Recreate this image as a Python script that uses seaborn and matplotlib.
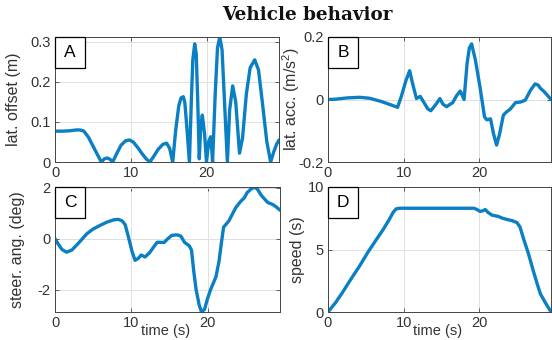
import numpy as np
import pandas as pd
import matplotlib
matplotlib.use("Agg")
import matplotlib.pyplot as plt
from matplotlib.patches import Rectangle
import seaborn as sns

# ---------------- data ----------------
t_offset = [0.0, 1.0, 2.0, 2.8, 3.3, 3.8, 4.4, 5.0, 5.6, 6.1, 6.5, 6.9, 7.3, 7.6,
            8.1, 8.7, 9.3, 9.8, 10.3, 10.9, 11.5, 12.0, 12.5, 13.0, 13.6, 14.2,
            14.7, 15.1, 15.5, 15.9, 16.3, 16.6, 16.9, 17.1, 17.35, 17.7, 17.95,
            18.15, 18.4, 18.6, 18.8, 19.0, 19.2, 19.4, 19.7, 19.95, 20.25, 20.5,
            20.65, 20.75, 21.1, 21.4, 21.7, 22.0, 22.3, 22.7, 23.0, 23.4, 23.8,
            24.3, 24.7, 25.2, 25.7, 26.3, 26.8, 27.3, 27.9, 28.4, 28.8, 29.2, 29.5]
lat_offset = [0.077, 0.077, 0.078, 0.080, 0.080, 0.077, 0.062, 0.040, 0.018, 0.0,
              0.008, 0.010, 0.006, 0.0, 0.020, 0.042, 0.053, 0.055, 0.050, 0.036,
              0.020, 0.008, 0.0, 0.014, 0.032, 0.044, 0.047, 0.034, 0.0, 0.080,
              0.140, 0.160, 0.163, 0.148, 0.090, 0.0, 0.150, 0.255, 0.295, 0.270,
              0.150, 0.008, 0.090, 0.117, 0.070, 0.0, 0.052, 0.063, 0.030, 0.0,
              0.170, 0.285, 0.312, 0.280, 0.160, 0.0, 0.130, 0.190, 0.150, 0.022,
              0.060, 0.170, 0.235, 0.255, 0.230, 0.150, 0.050, 0.0, 0.025, 0.045,
              0.055]

t_acc = [0.0, 1.0, 2.5, 4.2, 5.5, 7.0, 8.3, 9.2, 9.7, 10.3, 10.8, 11.2, 11.7, 12.2,
         12.7, 13.2, 13.6, 14.2, 14.8, 15.2, 15.7, 16.1, 16.5, 17.0, 17.5, 18.0,
         18.4, 18.7, 19.0, 19.5, 20.1, 20.7, 21.0, 21.5, 21.9, 22.3, 22.7, 23.2,
         23.6, 24.1, 24.8, 25.5, 26.1, 26.8, 27.4, 27.8, 28.1, 28.6, 29.0, 29.5]
lat_acc = [0.0, 0.001, 0.005, 0.007, 0.004, -0.006, -0.017, -0.025, 0.010, 0.060,
           0.092, 0.050, 0.003, 0.010, -0.010, -0.030, -0.036, -0.018, 0.003,
           -0.015, -0.023, -0.016, -0.010, 0.012, 0.027, 0.0, 0.116, 0.165, 0.178,
           0.126, 0.041, -0.055, -0.065, -0.062, -0.110, -0.146, -0.110, -0.050,
           -0.040, -0.031, -0.010, -0.008, -0.002, 0.030, 0.050, 0.046, 0.036,
           0.025, 0.014, 0.0]

t_steer = [0.0, 0.4, 0.9, 1.5, 2.2, 3.0, 4.2, 5.0, 5.9, 6.8, 7.7, 8.3, 8.8, 9.2,
           9.6, 10.1, 10.5, 10.9, 11.3, 11.8, 12.4, 13.0, 13.4, 14.3, 14.8, 15.3,
           16.0, 16.5, 17.0, 17.6, 17.9, 18.2, 18.5, 18.9, 19.2, 19.6, 20.0, 20.4,
           21.1, 21.5, 21.8, 22.1, 22.8, 23.7, 24.3, 24.8, 25.2, 25.7, 26.2, 26.6,
           27.0, 27.5, 27.9, 28.5, 29.0, 29.5]
steer = [0.0, -0.2, -0.42, -0.53, -0.45, -0.2, 0.2, 0.38, 0.52, 0.65, 0.74, 0.76,
         0.70, 0.55, 0.1, -0.5, -0.85, -0.78, -0.64, -0.72, -0.55, -0.3, -0.14,
         -0.15, 0.0, 0.13, 0.15, 0.10, -0.15, -0.28, -0.45, -1.3, -2.0, -2.6,
         -2.87, -2.78, -2.35, -2.0, -1.5, -0.9, -0.2, 0.45, 0.7, 1.22, 1.45, 1.6,
         1.81, 1.95, 2.03, 1.92, 1.72, 1.55, 1.42, 1.35, 1.25, 1.12]

t_speed = [0.0, 1.0, 1.9, 3.0, 4.2, 5.3, 6.4, 7.3, 8.1, 8.6, 9.0, 9.5, 15.0, 19.3,
           19.7, 20.1, 20.5, 20.8, 21.2, 21.7, 22.5, 23.1, 23.7, 24.4, 25.0, 25.4,
           25.9, 26.5, 27.2, 27.7, 28.1, 28.7, 29.5]
speed = [0.0, 0.75, 1.55, 2.6, 3.7, 4.8, 5.8, 6.6, 7.4, 7.95, 8.25, 8.3, 8.3, 8.3,
         8.2, 8.05, 8.1, 8.2, 7.95, 7.75, 7.65, 7.5, 7.4, 7.3, 7.15, 6.8, 5.8, 4.7,
         3.2, 2.2, 1.45, 0.8, 0.0]

panel_letters = ["A", "B", "C", "D"]
ylabels = ["lat. offset (m)", "lat. acc. (m/s$^\\mathrm{2}$)", "steer. ang. (deg)", "speed (s)"]
yticks = [[0, 0.1, 0.2, 0.3], [-0.2, 0, 0.2], [-2, 0, 2], [0, 5, 10]]
ylims = [(0, 0.312), (-0.2, 0.2), (-2.88, 2.03), (0, 10)]
xticks = [0, 10, 20]
xlabel = "time (s)"
title = "Vehicle behavior"

# ---------------- style ----------------
sns.set_theme(style="white")
plt.rcParams["font.family"] = ["Liberation Sans", "DejaVu Sans"]
plt.rcParams["mathtext.fontset"] = "custom"
plt.rcParams["mathtext.rm"] = "Liberation Sans"
plt.rcParams["mathtext.it"] = "Liberation Sans:italic"

line_color = "#0a7fc4"
txt_color = "#333333"

fig = plt.figure(figsize=(5.52, 3.4), dpi=100)
W, H = 552, 340
boxes = [(55, 37, 279, 162), (328, 37, 551, 162), (55, 187, 280, 312), (328, 187, 551, 312)]
series = [(t_offset, lat_offset), (t_acc, lat_acc), (t_steer, steer), (t_speed, speed)]
ylab_x = [-0.15, -0.115, -0.135, -0.105]

for i, (l, tp, r, b) in enumerate(boxes):
    ax = fig.add_axes([l / W, 1 - b / H, (r - l) / W, (b - tp) / H])
    df = pd.DataFrame({"t": series[i][0], "v": series[i][1]})
    sns.lineplot(data=df, x="t", y="v", ax=ax, color=line_color, lw=2.4,
                 estimator=None, sort=False)
    ax.set_xlim(0, 29.5)
    ax.set_ylim(*ylims[i])
    ax.set_xticks(xticks)
    ax.set_yticks(yticks[i])
    ax.set_yticklabels([f"{v:g}" for v in yticks[i]])
    ax.grid(True, color="#e0e0e0", lw=0.7)
    ax.set_axisbelow(True)
    for s in ax.spines.values():
        s.set_color("#444444")
        s.set_linewidth(0.7)
        s.set_visible(True)
    ax.tick_params(direction="in", length=3, width=0.6, colors="#444444",
                   labelcolor=txt_color, labelsize=10.5, top=True, right=True,
                   bottom=True, left=True, pad=3)
    ax.set_ylabel(ylabels[i], fontsize=11.5, color=txt_color)
    ax.yaxis.set_label_coords(ylab_x[i], 0.5)
    if i >= 2:
        ax.set_xlabel(xlabel, fontsize=10.5, color=txt_color, va="center")
        ax.xaxis.set_label_coords(0.49, -0.152)
    else:
        ax.set_xlabel("")
    # panel letter box
    bw = 30 / (r - l)
    bh = 31 / (b - tp)
    ax.add_patch(Rectangle((0, 1 - bh), bw, bh, transform=ax.transAxes,
                           facecolor="white", edgecolor="black", lw=0.9,
                           zorder=5, clip_on=False))
    ax.text(bw / 2, 1 - bh / 2, panel_letters[i], transform=ax.transAxes,
            ha="center", va="center", fontsize=12.5, color="black", zorder=6)

fig.text(307.5 / W, 1 - 15 / H, title, family="DejaVu Serif", weight="bold",
         fontsize=13.2, ha="center", va="center", color="#111111")

fig.savefig("out.png", dpi=100)
